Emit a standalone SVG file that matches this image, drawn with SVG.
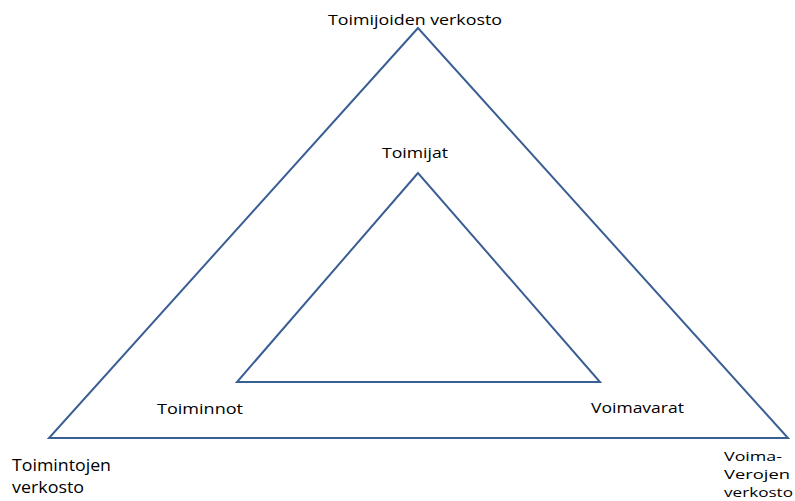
<svg xmlns="http://www.w3.org/2000/svg" width="795" height="501" viewBox="0 0 795 501">
<style>
.t{font-family:"Open Sans","Noto Sans",sans-serif;font-size:14.5px;fill:#000}
.b{font-size:16px}
.v{font-size:13px}
.tri{fill:none;stroke:#3a5f94;stroke-width:2;stroke-linejoin:miter}
</style>
<rect width="795" height="501" fill="#fff"/>
<g id="connectors">
<polygon id="outer" class="tri" points="418,28 49,438 788,438"/>
<polygon id="inner" class="tri" points="418,173 237,382 600,382"/>
</g>
<g id="n-toimijoiden"><text class="t" x="328" y="25" textLength="174" lengthAdjust="spacingAndGlyphs">Toimijoiden verkosto</text></g>
<g id="n-toimijat"><text class="t" x="382" y="158" textLength="66" lengthAdjust="spacingAndGlyphs">Toimijat</text></g>
<g id="n-toiminnot"><text class="t" x="157" y="414" textLength="86" lengthAdjust="spacingAndGlyphs">Toiminnot</text></g>
<g id="n-voimavarat"><text class="t" x="591" y="413" textLength="93" lengthAdjust="spacingAndGlyphs">Voimavarat</text></g>
<g id="n-toimintojen"><text class="t b" x="12" y="471" textLength="99" lengthAdjust="spacingAndGlyphs">Toimintojen</text><text class="t b" x="12" y="493" textLength="72" lengthAdjust="spacingAndGlyphs">verkosto</text></g>
<g id="n-voima"><text class="t v" x="724" y="461" textLength="58" lengthAdjust="spacingAndGlyphs">Voima-</text><text class="t v" x="724" y="479" textLength="66" lengthAdjust="spacingAndGlyphs">Verojen</text><text class="t v" x="724" y="497" textLength="69" lengthAdjust="spacingAndGlyphs">verkosto</text></g>
</svg>
